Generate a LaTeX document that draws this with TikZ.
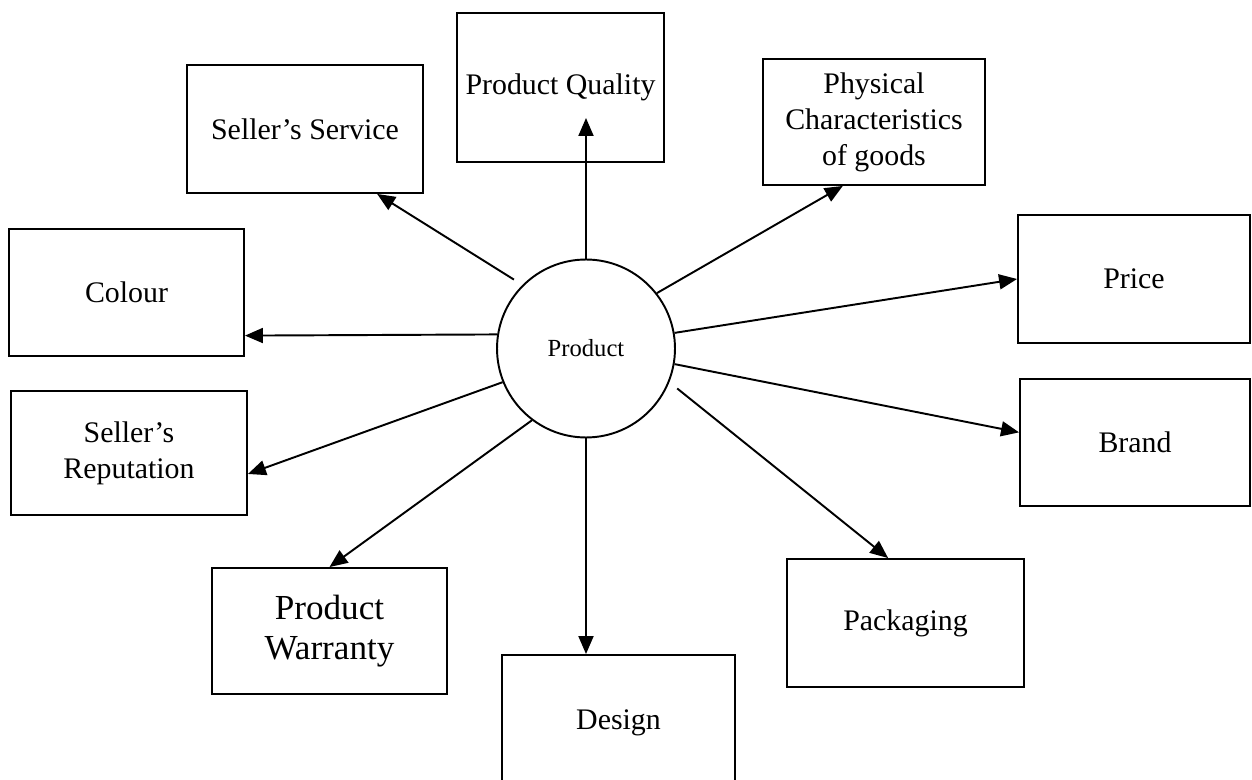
\documentclass[tikz,border=0pt]{standalone}
\usepackage{fontspec}
\setmainfont{Liberation Serif}
\usetikzlibrary{arrows.meta}

\begin{document}
\begin{tikzpicture}[x=0.02cm,y=-0.02cm,
  box/.style={draw, line width=1.1pt, inner sep=0pt, align=center, font=\fontsize{17}{20.5}\selectfont},
  link/.style={line width=1.1pt, -{Triangle[length=0.36cm,width=0.3cm]}}]
\clip (0,0) rectangle (1252,780);

% the product in the middle
\node[circle, draw, line width=1.1pt, minimum size=3.56cm, inner sep=0pt, font=\fontsize{14}{16}\selectfont] (prod) at (586,348.5) {Product};

% boxes round it
\node[box, minimum width=4.14cm, minimum height=2.98cm] (qual) at (560.5,87.5) {Product Quality};
\node[box, minimum width=4.72cm, minimum height=2.56cm] (serv) at (305,129) {Seller's Service};
\node[box, minimum width=4.44cm, minimum height=2.52cm] (phys) at (874,122) {Physical\\Characteristics\\of goods};
\node[box, minimum width=4.70cm, minimum height=2.54cm] (col) at (126.5,292.5) {Colour};
\node[box, minimum width=4.64cm, minimum height=2.56cm] (price) at (1134,279) {Price};
\node[box, minimum width=4.72cm, minimum height=2.48cm] (rep) at (129,453) {Seller's\\Reputation};
\node[box, minimum width=4.60cm, minimum height=2.54cm] (brand) at (1135,442.5) {Brand};
\node[box, minimum width=4.70cm, minimum height=2.52cm, font=\fontsize{20}{23}\selectfont] (warr) at (329.5,631) {Product\\Warranty};
\node[box, minimum width=4.66cm, minimum height=2.70cm] (design) at (618.5,722.5) {Design};
\node[box, minimum width=4.74cm, minimum height=2.56cm] (pack) at (905.5,623) {Packaging};

% arrows out of the product
\foreach \a/\b/\s in {prod.135/serv.-42/0.2cm, prod.38/phys.-116/0cm, prod.171/col.-20/0cm,
  prod.10/price.west/0cm, prod.202/rep.-10/0cm, prod.-10/brand.175/0cm,
  prod.233/warr.north/0cm, prod.-22/pack.105/0.2cm}{
	\draw[link, shorten <=\s] (\a) -- (\b);
}
\draw[link, shorten >=0.61cm] (prod.north) -- (prod.north |- qual.center);
\draw[link] (prod.south) -- (prod.south |- design.north);
\end{tikzpicture}
\end{document}
